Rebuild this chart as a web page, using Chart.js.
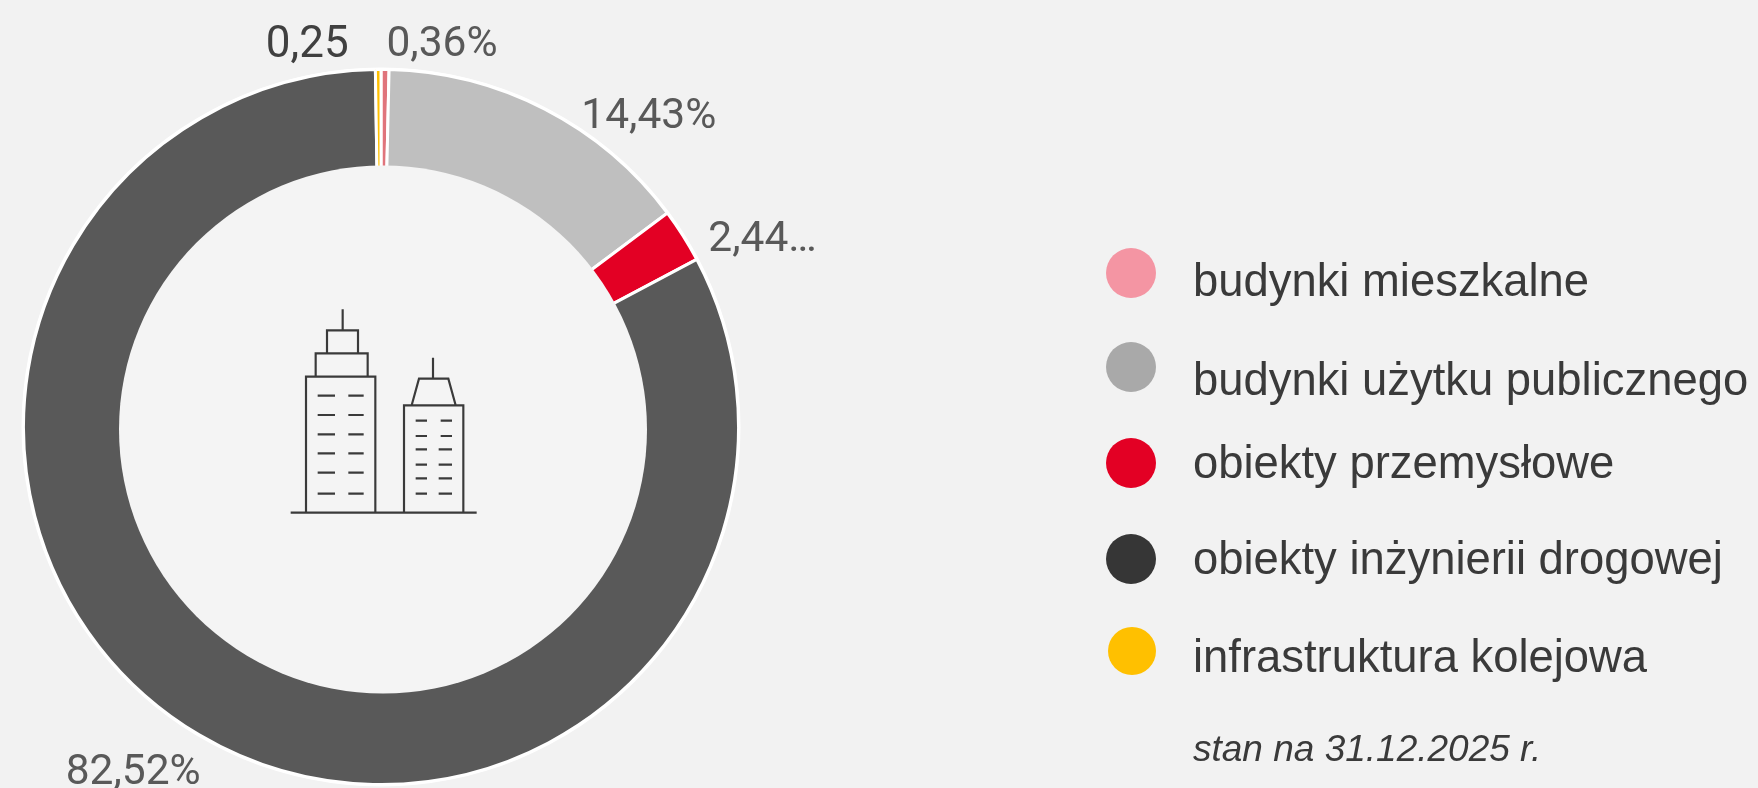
<!DOCTYPE html>
<html lang="pl">
<head>
<meta charset="utf-8">
<title>Struktura obiektów</title>
<script src="https://cdn.jsdelivr.net/npm/chart.js@4"></script>
<style>
    html, body { margin: 0; padding: 0; width: 1758px; height: 788px; overflow: hidden; background: #f2f2f2; }
    #chart { position: absolute; left: 0; top: 0; }
    #icon { position: absolute; left: 270px; top: 290px; width: 230px; height: 240px; }
    #icon path { fill: none; stroke: #3a3a3a; stroke-width: 6.5; }
    .dot { position: absolute; border-radius: 50%; }
    .legend-text {
        position: absolute; left: 1193px; line-height: 0; white-space: nowrap; color: #3a3a3a;
        font-family: "Liberation Sans", Arial, sans-serif; font-size: 45.4px;
    }
    .legend-note { font-size: 37px; font-style: italic; }
</style>
</head>
<body>
<canvas id="chart" width="1758" height="788"></canvas>
<svg id="icon" viewBox="0 0 690 720">
    <path d="M62 668H620"/>
    <path d="M108 668V260H316V668M137 260V190H293V260M171 190V121H264V190M218 58V121"/>
    <path d="M143 317H195M235 317H281M143 375H195M235 375H281M143 433H195M235 433H281M143 490H195M235 490H281M143 548H195M235 548H281M143 611H195M235 611H281"/>
    <path d="M402 668V346H580V668M425 346L447 266H535L557 346M489 203V266"/>
    <path d="M437 392H471M512 392H546M437 438H471M512 438H546M437 478H471M506 478H546M437 524H471M506 524H546M437 565H471M506 565H546M437 611H471M506 611H546"/>
</svg>
<script>
// --- 1. DATA ---
const categories = ['budynki mieszkalne', 'budynki użytku publicznego', 'obiekty przemysłowe', 'obiekty inżynierii drogowej', 'infrastruktura kolejowa'];
const shares = [0.36, 14.43, 2.44, 82.52, 0.25];
const valueLabels = ['0,36%', '14,43%', '2,44…', '82,52%', '0,25'];
const noteText = 'stan na 31.12.2025 r.';

const sliceColors = ['#e0747c', '#bfbfbf', '#e30024', '#595959', '#ffc000'];
const legendColors = ['#f495a3', '#a9a9a9', '#e30024', '#363636', '#ffc000'];
const labelColors = ['#595959', '#595959', '#595959', '#595959', '#404040'];

// --- 2. LAYOUT (hand tuned against the picture) ---
// label offset from the outer edge of its slice: [dx, dy to baseline]
const labelNudges = [[57, -14], [104, 19], [79.5, 15], [-66, 49], [-71, -13]];
const labelFontSizes = [42.5, 42.5, 42.5, 42.5, 44];
const legendDotX = [1130.5, 1130.5, 1130.5, 1130.5, 1132];
const legendDotY = [273, 367, 463, 559, 651];
const legendBaseY = [296.5, 395.5, 478.5, 574.5, 672.5];
const noteBaseY = 762;

// --- 3. PLUGINS ---
// white rim behind the ring, a touch wider than the slice border
const outerRim = {
    id: 'outerRim',
    beforeDatasetsDraw(chart) {
        const arc = chart.getDatasetMeta(0).data[0];
        const ctx = chart.ctx;
        ctx.save();
        ctx.fillStyle = '#ffffff';
        ctx.beginPath();
        ctx.arc(arc.x, arc.y, arc.outerRadius + 2, 0, Math.PI * 2);
        ctx.fill();
        ctx.restore();
    }
};

// the hole is its own disc, sitting a little off the ring's centre
const holeDisc = {
    id: 'holeDisc',
    afterDatasetsDraw(chart) {
        const ctx = chart.ctx;
        ctx.save();
        ctx.fillStyle = '#f4f4f4';
        ctx.beginPath();
        ctx.arc(383, 429.5, 264, 0, Math.PI * 2);
        ctx.fill();
        ctx.restore();
    }
};

const sliceLabels = {
    id: 'sliceLabels',
    afterDatasetsDraw(chart) {
        const ctx = chart.ctx;
        ctx.save();
        ctx.textAlign = 'center';
        ctx.textBaseline = 'alphabetic';
        chart.getDatasetMeta(0).data.forEach((arc, i) => {
            const mid = (arc.startAngle + arc.endAngle) / 2;
            const x = arc.x + Math.cos(mid) * arc.outerRadius + labelNudges[i][0];
            const y = arc.y + Math.sin(mid) * arc.outerRadius + labelNudges[i][1];
            ctx.font = `400 ${labelFontSizes[i]}px Roboto`;
            ctx.fillStyle = labelColors[i];
            ctx.fillText(valueLabels[i], x, y);
        });
        ctx.restore();
    }
};

// --- 4. CHART ---
new Chart(document.getElementById('chart').getContext('2d'), {
    type: 'doughnut',
    data: {
        labels: categories,
        datasets: [{
            data: shares,
            backgroundColor: sliceColors,
            borderColor: '#ffffff',
            borderWidth: 3
        }]
    },
    options: {
        responsive: false,
        animation: false,
        cutout: '70%',
        layout: { padding: { left: 22, right: 1018, top: 68, bottom: 2 } },
        plugins: { legend: { display: false }, tooltip: { enabled: false } }
    },
    plugins: [outerRim, holeDisc, sliceLabels]
});

// --- 5. LEGEND ---
function addText(text, baseY, extraClass) {
    const el = document.createElement('div');
    el.className = 'legend-text' + (extraClass ? ' ' + extraClass : '');
    el.textContent = text;
    document.body.appendChild(el);
    const size = parseFloat(getComputedStyle(el).fontSize);
    el.style.top = (baseY - size * 0.3465) + 'px';
}

categories.forEach((name, i) => {
    const dot = document.createElement('div');
    const d = i === categories.length - 1 ? 48 : 50;
    dot.className = 'dot';
    dot.style.cssText = `left:${legendDotX[i] - d / 2}px;top:${legendDotY[i] - d / 2}px;width:${d}px;height:${d}px;background:${legendColors[i]}`;
    document.body.appendChild(dot);
    addText(name, legendBaseY[i]);
});
addText(noteText, noteBaseY, 'legend-note');
</script>
</body>
</html>
